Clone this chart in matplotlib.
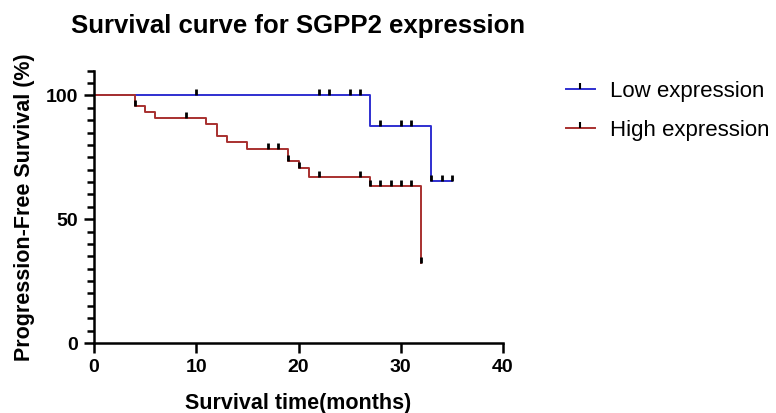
import numpy as np
import matplotlib
matplotlib.use("Agg")
import matplotlib.pyplot as plt
from matplotlib.path import Path
from matplotlib.lines import Line2D

plt.rcParams['font.family'] = ['Liberation Sans', 'DejaVu Sans']

# --- data ---
low_times = [0, 27, 33, 35]
low_surv = [100, 87.5, 65.6, 65.6]
low_censor = [10, 22, 23, 25, 26, 28, 30, 31, 33, 34, 35]

high_times = [0, 4, 5, 6, 11, 12, 13, 15, 19, 20, 21, 27, 32]
high_surv = [100, 95.7, 93.4, 90.7, 88.3, 83.5, 81.1, 78.4, 73.4, 70.7, 67.1, 63.6, 32.4]
high_censor = [4, 9, 17, 18, 19, 20, 22, 26, 27, 28, 29, 30, 31, 32]

labels = ["Low expression", "High expression"]
colors = ["#2f2fd0", "#a8302f"]

# censor tick: vertical line going up from the curve
tick = Path([(0, 0), (0, 1)])


def surv_at(times, surv, t):
    i = np.searchsorted(times, t, side="right") - 1
    return surv[i]


fig = plt.figure(figsize=(7.76, 4.13), dpi=100)
ax = fig.add_axes([94 / 776, 1 - 343 / 413, (503 - 94) / 776, (343 - 70.7) / 413])

for times, surv, cens, c in [(low_times, low_surv, low_censor, colors[0]),
                             (high_times, high_surv, high_censor, colors[1])]:
    ax.plot(times, surv, drawstyle="steps-post", color=c, lw=1.4, zorder=2)
    cy = [surv_at(times, surv, t) for t in cens]
    ax.plot(cens, cy, ls="none", marker=tick, ms=8, mew=2, mec="black", zorder=3)

ax.set_xlim(0, 40)
ax.set_ylim(0, 110)
ax.set_xticks([0, 10, 20, 30, 40])
ax.set_yticks([0, 50, 100])
ax.set_yticks(np.arange(0, 111, 5), minor=True)
ax.spines["top"].set_visible(False)
ax.spines["right"].set_visible(False)
for s in ["left", "bottom"]:
    ax.spines[s].set_linewidth(1.8)
ax.tick_params(which="major", length=7.5, width=1.8, labelsize=14, pad=4)
ax.tick_params(axis="y", which="minor", length=5, width=1.8)
for lab in ax.get_xticklabels() + ax.get_yticklabels():
    lab.set_fontweight("bold")

ax.set_xlabel("Survival time(months)", fontsize=15.5, fontweight="bold", labelpad=12)
ax.set_ylabel("Progression-Free Survival (%)", fontsize=15.5, fontweight="bold", labelpad=8)

fig.text(298.5 / 776, 1 - 33.3 / 413, "Survival curve for SGPP2 expression",
         fontsize=18.5, fontweight="bold", ha="center", va="baseline")

handles = [Line2D([], [], color=c, lw=1.4, marker=tick, ms=8, mew=1.5, mec="black")
           for c in colors]
fig.legend(handles, labels, loc="upper left", bbox_to_anchor=(546 / 776, 1 - 61 / 413),
           frameon=False, fontsize=16, handlelength=1.3, handletextpad=0.7,
           labelspacing=0.8, numpoints=1)

fig.savefig("out.png", dpi=100)
